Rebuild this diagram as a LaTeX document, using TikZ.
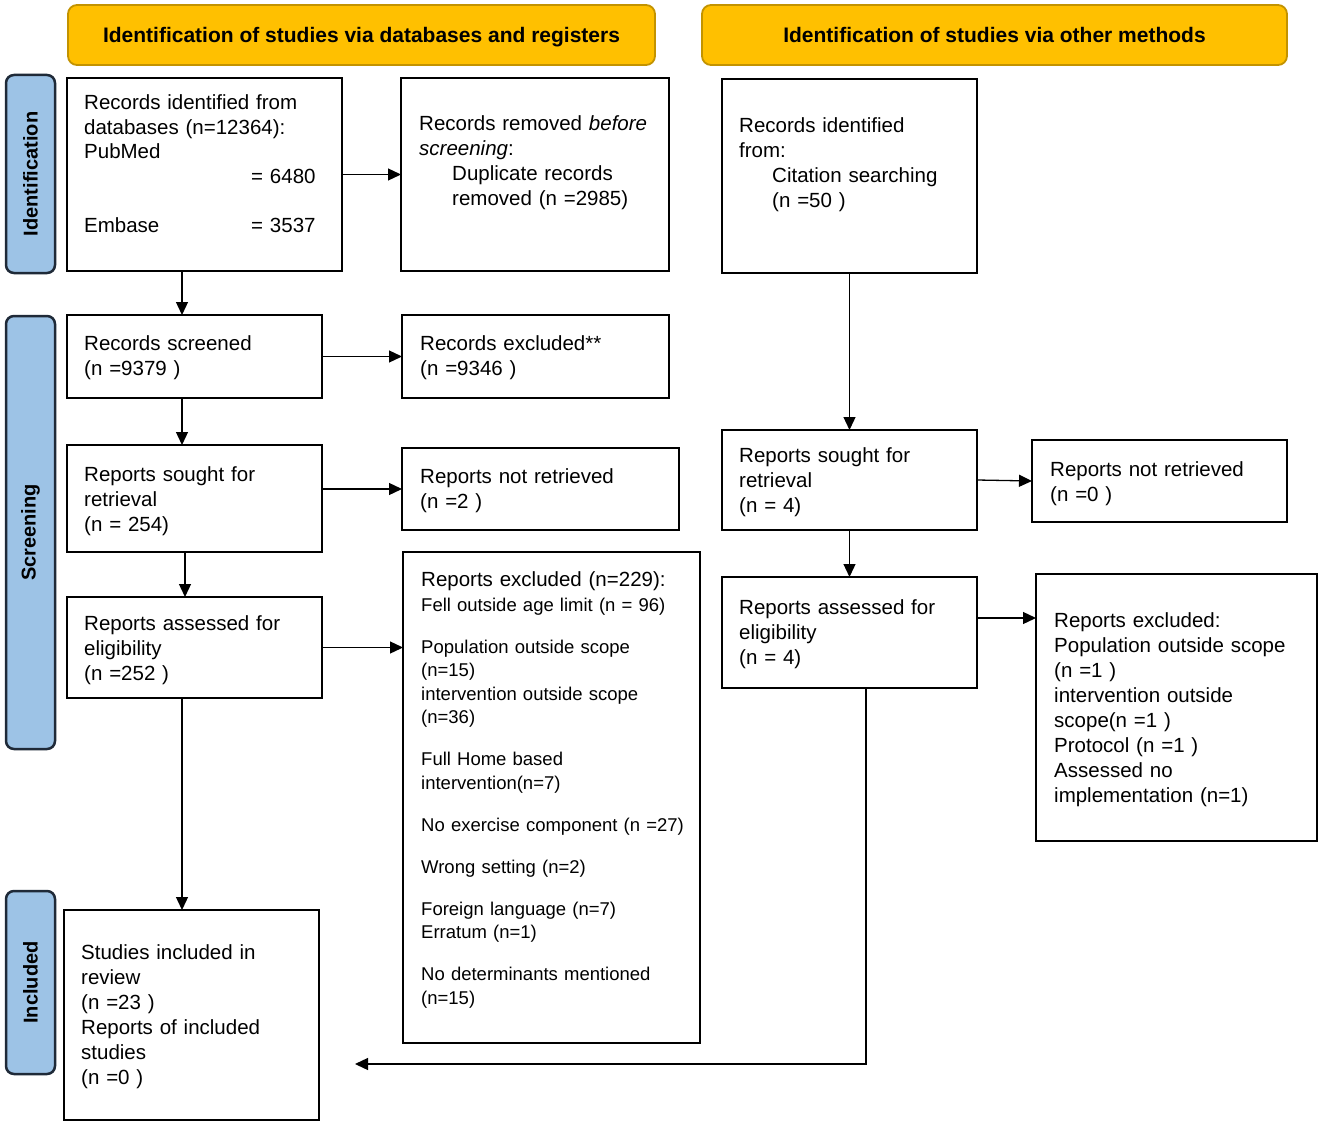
\documentclass[tikz,border=0pt]{standalone}
\usepackage{fontspec}
\setmainfont{Liberation Sans}
\usetikzlibrary{arrows.meta,fit,calc}
\definecolor{hdrfill}{HTML}{FFC000}
\definecolor{hdrdraw}{HTML}{C39300}
\definecolor{sidefill}{HTML}{9DC3E6}
\definecolor{sidedraw}{HTML}{1F2A38}
\begin{document}
\begin{tikzpicture}[x=1pt,y=-1pt,
  box/.style={draw=black, line width=2.2pt, inner sep=0pt, outer sep=0pt},
  hdr/.style={draw=hdrdraw, fill=hdrfill, line width=1.8pt, rounded corners=9pt, inner sep=0pt},
  hdrtxt/.style={font=\fontsize{21}{25}\selectfont\bfseries, inner sep=0pt},
  side/.style={draw=sidedraw, fill=sidefill, line width=2.5pt, rounded corners=8pt, inner sep=0pt},
  sidetxt/.style={font=\fontsize{20}{24}\selectfont\bfseries, rotate=90, inner sep=0pt},
  txt/.style={anchor=base west, inner sep=0pt, align=left, text width=#1, font=\fontsize{20.5}{25}\selectfont},
  arr/.style={line width=1.3pt, -{Triangle[length=13pt,width=12pt]}}
]
\useasboundingbox (0,0) rectangle (1325,1126);
\fill[white] (0,0) rectangle (1325,1126);

% headers
\node[hdr, fit={(68,5) (655,65)}] (H1) {};
\node[hdrtxt, anchor=base] (H1t) at ($(H1.center)+(0,8)$) {Identification of studies via databases and registers};
\node[hdr, fit={(702,5) (1287,65)}] (H2) {};
\node[hdrtxt, anchor=base] (H2t) at ($(H2.center)+(0,8)$) {Identification of studies via other methods};

% side labels
\node[side, fit={(6,75) (55,273)}] (S1) {};
\node[sidetxt] (S1t) at (S1.center) {Identification};
\node[side, fit={(6,316) (55,749)}] (S2) {};
\node[sidetxt] (S2t) at (S2.center) {Screening};
\node[side, fit={(6,891) (55,1074)}] (S3) {};
\node[sidetxt] (S3t) at (S3.center) {Included};

% boxes
\node[box, fit={(67,78) (342,271)}] (A) {};
\node[txt=255pt] (At) at (84,110) {\fontsize{20.5}{24.5}\selectfont Records identified from\\
databases (n=12364):\\
PubMed\\
\hspace*{167pt}= 6480\\[24.5pt]
\makebox[167pt][l]{Embase}= 3537};

\node[box, fit={(401,78) (669,271)}] (B) {};
\node[txt=248pt] (Bt) at (419,131) {\fontsize{20.5}{24.7}\selectfont Records removed \textit{before}\\
\textit{screening}:\\
\hspace*{33pt}Duplicate records\\
\hspace*{33pt}removed (n =2985)};

\node[box, fit={(722,79) (977,273)}] (C) {};
\node[txt=236pt] (Ct) at (739,133) {Records identified\\
from:\\
\hspace*{33pt}Citation searching\\
\hspace*{33pt}(n =50 )};

\node[box, fit={(67,315) (322,398)}] (D) {};
\node[txt=236pt] (Dt) at (84,350) {\fontsize{20.5}{26}\selectfont Records screened\\(n =9379 )};

\node[box, fit={(402,315) (669,398)}] (E) {};
\node[txt=247pt] (Et) at (420,350) {\fontsize{20.5}{26}\selectfont Records excluded**\\(n =9346 )};

\node[box, fit={(67,445) (322,552)}] (F) {};
\node[txt=236pt] (Ft) at (84,481) {Reports sought for\\retrieval\\(n = 254)};

\node[box, fit={(402,448) (679,530)}] (G) {};
\node[txt=257pt] (Gt) at (420,483) {\fontsize{20.5}{26}\selectfont Reports not retrieved\\(n =2 )};

\node[box, fit={(722,430) (977,530)}] (H) {};
\node[txt=236pt] (Ht) at (739,462) {Reports sought for\\retrieval\\(n = 4)};

\node[box, fit={(1032,440) (1287,522)}] (I) {};
\node[txt=235pt] (It) at (1050,476) {Reports not retrieved\\(n =0 )};

\node[box, fit={(67,597) (322,698)}] (J) {};
\node[txt=236pt] (Jt) at (84,630) {Reports assessed for\\eligibility\\(n =252 )};

\node[box, fit={(403,552) (700,1043)}] (K) {};
\node[txt=277pt] (Kh) at (421,586) {Reports excluded (n=229):};
\node[txt=277pt, font=\fontsize{18.5}{23.5}\selectfont] (Kb) at (421,611) {Fell outside age limit (n = 96)\\[18.5pt]
Population outside scope\\
(n=15)\\
intervention outside scope\\
(n=36)\\[18.5pt]
Full Home based\\
intervention(n=7)\\[18.5pt]
No exercise component (n =27)\\[18.5pt]
Wrong setting (n=2)\\[18.5pt]
Foreign language (n=7)\\
Erratum (n=1)\\[18.5pt]
No determinants mentioned\\
(n=15)};

\node[box, fit={(722,577) (977,688)}] (L) {};
\node[txt=236pt] (Lt) at (739,614) {Reports assessed for\\eligibility\\(n = 4)};

\node[box, fit={(1036,574) (1317,841)}] (M) {};
\node[txt=260pt] (Mt) at (1054,627) {Reports excluded:\\
Population outside scope\\
(n =1 )\\
intervention outside\\
scope(n =1 )\\
Protocol (n =1 )\\
Assessed no\\
implementation (n=1)};

\node[box, fit={(64,910) (319,1120)}] (N) {};
\node[txt=236pt] (Nt) at (81,959) {\fontsize{20.5}{25.2}\selectfont Studies included in\\
review\\
(n =23 )\\
Reports of included\\
studies\\
(n =0 )};

% helper coordinates
\coordinate (xa) at (182,0);
\coordinate (xb) at (185,0);
\coordinate (xc) at (866,0);
\coordinate (ylm) at (0,618);
\coordinate (nin) at (355,1064);

% connectors
\draw[arr] (A.south -| xa) -- (D.north -| xa);
\draw[arr] (A.east) -- (B.west);
\draw[arr] (D.east) -- (E.west);
\draw[arr] (D.south -| xa) -- (F.north -| xa);
\draw[arr] (F.east |- G.west) -- (G.west);
\draw[arr] (F.south -| xb) -- (J.north -| xb);
\draw[arr] (J.east) -- (J.east -| K.west);
\draw[arr] (J.south -| xa) -- (N.north -| xa);
\draw[arr] (C.south) -- (H.north);
\draw[arr] (H.east) -- (I.west);
\draw[arr] (H.south) -- (L.north);
\draw[arr] (L.east |- ylm) -- (M.west |- ylm);
\draw[arr] (L.south -| xc) |- (nin);
\end{tikzpicture}
\end{document}
